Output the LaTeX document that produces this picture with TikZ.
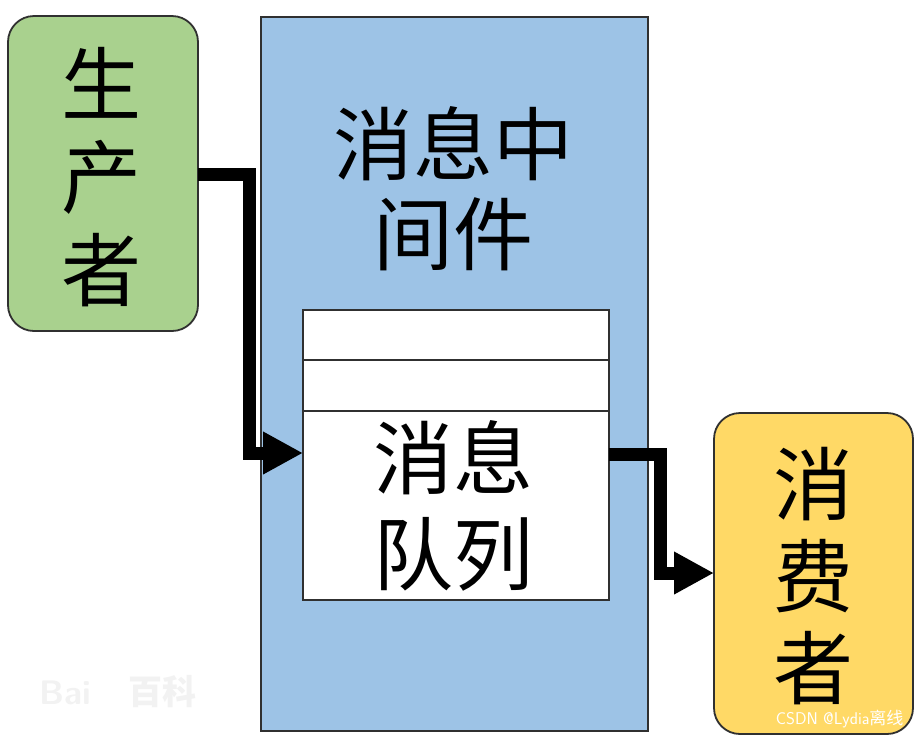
\documentclass[tikz,border=0pt]{standalone}
\usepackage{fontspec}
\newfontfamily\cjk{Noto Sans CJK SC}
\usetikzlibrary{arrows.meta}
\definecolor{prodgreen}{HTML}{A9D18E}
\definecolor{midblue}{HTML}{9DC3E6}
\definecolor{consyellow}{HTML}{FFD966}
\definecolor{edgegray}{HTML}{303030}
\tikzset{
  box/.style={draw=edgegray, line width=1.8pt, inner sep=0pt, outer sep=0pt},
  roundbox/.style={box, rounded corners=26pt},
  bigtext/.style={font=\cjk\fontsize{80}{93}\selectfont, align=center, inner sep=0pt, text=black},
  flow/.style={line width=13pt, line join=miter, -{Triangle[length=40pt,width=40pt]}},
  divider/.style={draw=edgegray, line width=1.5pt},
  wmark/.style={font=\sffamily\fontsize{17}{19}\selectfont}
}
\begin{document}
\begin{tikzpicture}[x=1pt,y=-1pt]
\useasboundingbox[fill=white] (0,0) rectangle (922,740);
% boxes
\node[roundbox, fill=prodgreen, minimum width=190pt, minimum height=315pt] (prod) at (103,173.5) {};
\node[box, fill=midblue, minimum width=387pt, minimum height=714pt] (mid) at (454.5,374) {};
\node[box, fill=white, minimum width=306pt, minimum height=290pt] (queue) at (456,455) {};
\node[roundbox, fill=consyellow, minimum width=199pt, minimum height=321pt] (cons) at (813.5,573.5) {};
% queue dividers
\coordinate (d1) at (0,360);
\coordinate (d2) at (0,411);
\draw[divider] (d1 -| queue.west) -- (d1 -| queue.east);
\draw[divider] (d2 -| queue.west) -- (d2 -| queue.east);
% texts
\node[bigtext] (prodtxt) at (101,177) {生\\产\\者};
\node[bigtext, font=\cjk\fontsize{80}{90}\selectfont] (midtxt) at (453,189) {消息中\\间件};
\node[bigtext, font=\cjk\fontsize{80}{96}\selectfont] (queuetxt) at (453,506) {消息\\队列};
\node[bigtext, font=\cjk\fontsize{80}{92}\selectfont] (constxt) at (813,576) {消\\费\\者};
% connectors
\coordinate (k1) at (249,174);
\coordinate (k2) at (249,453);
\coordinate (k3) at (660,454);
\coordinate (k4) at (660,573);
\draw[flow] (k1 -| prod.east) -- (k1) -- (k2) -- (k2 -| queue.west);
\draw[flow] (k3 -| queue.east) -- (k3) -- (k4) -- (k4 -| cons.west);
% watermarks
\node[wmark, text=black!5, font=\sffamily\bfseries\fontsize{34}{36}\selectfont] (wm1) at (118,692) {Bai\kern38pt{\cjk 百科}};
\node[wmark, text=white, anchor=east] (wm2) at (907,719) {CSDN @Lydia{\cjk 离线}};
\end{tikzpicture}
\end{document}
